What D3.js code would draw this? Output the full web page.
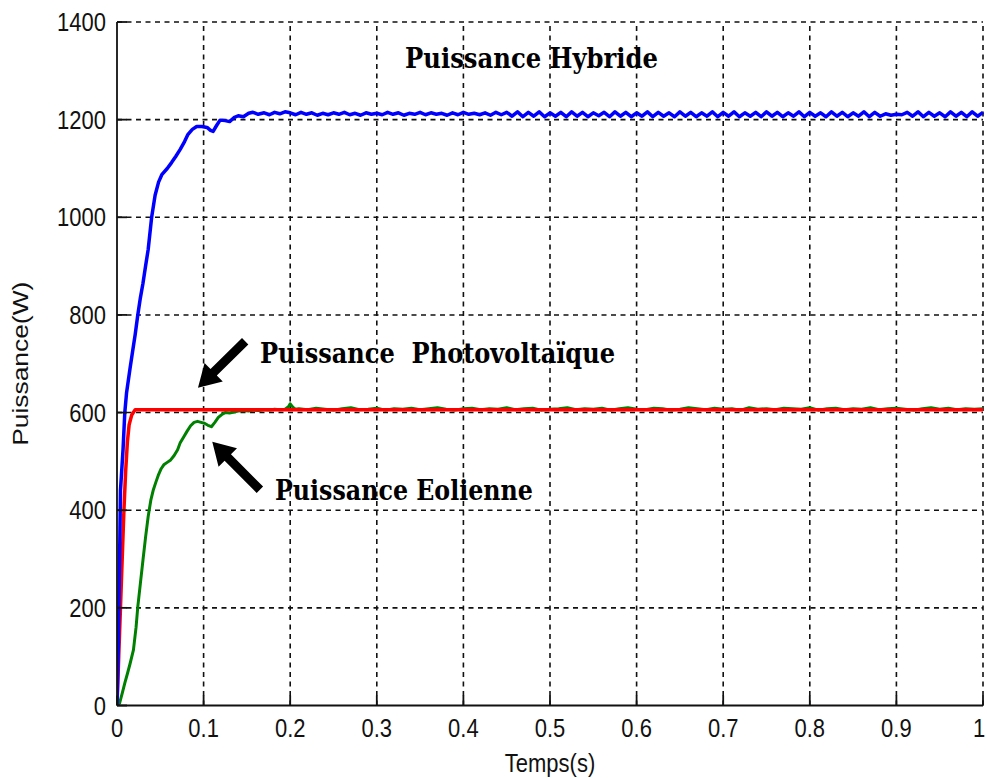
<!DOCTYPE html>
<html>
<head>
<meta charset="utf-8">
<script src="https://cdn.jsdelivr.net/npm/d3@7"></script>
<style>
  body { margin: 0; background: #fff; }
  svg { display: block; }
  .tick-label { font-family: "Liberation Sans", Arial, sans-serif; font-size: 22px; fill: #111; }
  .note { font-family: "DejaVu Serif", serif; font-weight: bold; font-size: 24px; fill: #000; white-space: pre; }
</style>
</head>
<body>
<div id="chart"></div>
<script>
// ---- data ----
const xTicks = [0, 0.1, 0.2, 0.3, 0.4, 0.5, 0.6, 0.7, 0.8, 0.9, 1];
const yTicks = [0, 200, 400, 600, 800, 1000, 1200, 1400];

// hybrid power (blue): transient
const hybridT = [0, 0.0015, 0.003, 0.004, 0.007, 0.009, 0.011, 0.015, 0.018, 0.021, 0.024, 0.027, 0.030, 0.033, 0.036,
  0.040, 0.044, 0.048, 0.052, 0.058, 0.063, 0.068, 0.073, 0.078, 0.082, 0.087, 0.092, 0.098, 0.104, 0.108, 0.111,
  0.115, 0.119, 0.125, 0.130, 0.135, 0.140, 0.146, 0.152, 0.157, 0.163, 0.170, 0.176, 0.182, 0.188, 0.194];
const hybridP = [0, 120, 300, 440, 525, 600, 640, 690, 725, 760, 800, 835, 865, 900, 934,
  1000, 1045, 1072, 1088, 1100, 1112, 1125, 1139, 1155, 1170, 1180, 1186, 1186, 1184, 1178, 1176,
  1188, 1199, 1198, 1196, 1204, 1208, 1206, 1213, 1215, 1211, 1214, 1210, 1215, 1212, 1216];
// hybrid power (blue): steady ripple from 0.2 s to 1 s, evenly sampled
const hybridRipple = [1214, 1210, 1215, 1211, 1214, 1209, 1213, 1210, 1214, 1211, 1215, 1210, 1213, 1209, 1214, 1211,
  1213, 1210, 1215, 1211, 1214, 1209, 1213, 1211, 1215, 1210, 1214, 1211, 1213, 1209, 1214, 1210, 1215, 1211, 1213,
  1210, 1214, 1209, 1215, 1210,
  1215, 1207, 1216, 1206, 1215, 1207, 1216, 1206, 1214, 1207, 1215, 1206, 1216, 1207, 1215, 1206, 1214, 1208, 1215,
  1206, 1216, 1207, 1215, 1206, 1214, 1207, 1216, 1206, 1215, 1207, 1214, 1206, 1216, 1207, 1215, 1206, 1214, 1207,
  1216, 1206, 1215, 1207, 1216, 1206, 1214, 1207, 1215, 1206, 1216, 1207, 1215, 1206, 1214, 1207, 1216, 1206, 1215,
  1207, 1214, 1206, 1216, 1207, 1215, 1206, 1214, 1207, 1216, 1206, 1215, 1207, 1212, 1209, 1211, 1210, 1215, 1207,
  1216, 1206, 1215, 1207, 1214, 1206, 1216, 1207, 1215, 1206, 1216, 1207, 1215];

// photovoltaic power (red)
const pvT = [0, 0.002, 0.005, 0.008, 0.010, 0.012, 0.014, 0.017, 0.021, 1];
const pvP = [0, 100, 250, 400, 480, 540, 575, 595, 606, 606];

// wind power (green): transient
const windT = [0, 0.003, 0.006, 0.009, 0.012, 0.015, 0.019, 0.022, 0.024, 0.027, 0.030, 0.033, 0.036, 0.039, 0.042,
  0.045, 0.048, 0.051, 0.054, 0.058, 0.062, 0.066, 0.070, 0.073, 0.077, 0.081, 0.085, 0.089, 0.093, 0.097, 0.101,
  0.105, 0.109, 0.113, 0.117, 0.121, 0.125, 0.130, 0.135, 0.140, 0.146, 0.152, 0.158, 0.164, 0.170, 0.176, 0.182,
  0.188, 0.194, 0.198, 0.200, 0.203, 0.206];
const windP = [0, 5, 25, 46, 65, 85, 114, 160, 202, 250, 298, 345, 387, 420, 442,
  458, 473, 485, 493, 498, 503, 512, 524, 538, 550, 562, 573, 580, 582, 580, 578,
  574, 571, 580, 590, 596, 600, 599, 601, 603, 604, 603, 605, 604, 606, 605, 607,
  606, 607, 612, 618, 611, 607];
// wind power (green): steady part from 0.21 s to 1 s, evenly sampled
const windSteady = [608, 606, 609, 607, 605, 608, 610, 606, 607, 609, 605, 608, 607, 609, 606, 608, 610, 607, 605, 608,
  609, 606, 608, 607, 610, 606, 608, 609, 605, 607, 608, 610, 606, 608, 607, 609, 605, 608, 610, 607,
  606, 609, 608, 605, 607, 610, 608, 606, 609, 607, 608, 605, 610, 607, 608, 606, 609, 608, 607, 610,
  605, 608, 609, 606, 608, 607, 610, 606, 608, 609, 607, 605, 608, 610, 607, 609, 606, 608, 607, 608];

const notes = ['Puissance Hybride', 'Puissance  Photovoltaïque', 'Puissance Eolienne'];

// ---- layout ----
const width = 987, height = 778;
const plotLeft = 117, plotRight = 983, plotTop = 22, plotBottom = 705.5;
const stretch = 1.2; // the picture is taller than the fonts

function evenly(t0, t1, values) {
  const step = (t1 - t0) / (values.length - 1);
  return values.map(function (v, i) { return [t0 + i * step, v]; });
}
function zip(ts, ps) {
  return ts.map(function (t, i) { return [t, ps[i]]; });
}

const hybrid = zip(hybridT, hybridP).concat(evenly(0.2, 1, hybridRipple));
const pv = zip(pvT, pvP);
const wind = zip(windT, windP).concat(evenly(0.21, 1, windSteady));

const x = d3.scaleLinear().domain([0, 1]).range([plotLeft, plotRight]);
const y = d3.scaleLinear().domain([0, 1400]).range([plotBottom, plotTop]);

const svg = d3.select('#chart')
  .append('svg')
  .attr('width', width)
  .attr('height', height);

svg.append('rect').attr('width', width).attr('height', height).attr('fill', '#fff');

svg.append('clipPath').attr('id', 'plot')
  .append('rect')
  .attr('x', plotLeft).attr('y', plotTop - 3)
  .attr('width', plotRight - plotLeft + 3).attr('height', plotBottom - plotTop + 3);

// grid
const grid = svg.append('g')
  .attr('stroke', '#111')
  .attr('stroke-width', 1.6)
  .attr('stroke-dasharray', '5,4.5');

grid.selectAll('line.v')
  .data(xTicks.slice(1))
  .enter()
  .append('line')
  .attr('class', 'v')
  .attr('x1', function (d) { return x(d); })
  .attr('x2', function (d) { return x(d); })
  .attr('y1', plotBottom)
  .attr('y2', plotTop);

grid.selectAll('line.h')
  .data(yTicks.slice(1))
  .enter()
  .append('line')
  .attr('class', 'h')
  .attr('y1', function (d) { return y(d); })
  .attr('y2', function (d) { return y(d); })
  .attr('x1', plotLeft)
  .attr('x2', plotRight);

// curves: green under red under blue
const line = d3.line()
  .x(function (d) { return x(d[0]); })
  .y(function (d) { return y(d[1]); });

const curves = svg.append('g').attr('clip-path', 'url(#plot)')
  .attr('fill', 'none')
  .attr('stroke-linejoin', 'round');

curves.append('path').datum(wind).attr('d', line).attr('stroke', '#008000').attr('stroke-width', 3);
curves.append('path').datum(pv).attr('d', line).attr('stroke', '#ff0000').attr('stroke-width', 3.5);
curves.append('path').datum(hybrid).attr('d', line).attr('stroke', '#0000ff').attr('stroke-width', 3.5);

// axes (left and bottom solid, inward ticks)
const axes = svg.append('g').attr('stroke', '#111').attr('stroke-width', 1.8);
axes.append('line').attr('x1', plotLeft).attr('x2', plotLeft).attr('y1', plotTop).attr('y2', plotBottom);
axes.append('line').attr('x1', plotLeft).attr('x2', plotRight).attr('y1', plotBottom).attr('y2', plotBottom);

axes.selectAll('line.xt')
  .data(xTicks)
  .enter()
  .append('line')
  .attr('class', 'xt')
  .attr('x1', function (d) { return x(d); })
  .attr('x2', function (d) { return x(d); })
  .attr('y1', plotBottom)
  .attr('y2', plotBottom - 10);

axes.selectAll('line.yt')
  .data(yTicks)
  .enter()
  .append('line')
  .attr('class', 'yt')
  .attr('y1', function (d) { return y(d); })
  .attr('y2', function (d) { return y(d); })
  .attr('x1', plotLeft)
  .attr('x2', plotLeft + 10);

// tick labels (the last one is nudged in so it is not cut by the page edge)
svg.selectAll('text.xl')
  .data(xTicks)
  .enter()
  .append('text')
  .attr('class', 'tick-label xl')
  .attr('text-anchor', 'middle')
  .attr('transform', function (d) {
    const px = d === 1 ? x(d) - 4 : x(d);
    return 'translate(' + px + ',737) scale(1,' + stretch + ')';
  })
  .text(function (d) { return d3.format('~g')(d); });

svg.selectAll('text.yl')
  .data(yTicks)
  .enter()
  .append('text')
  .attr('class', 'tick-label yl')
  .attr('text-anchor', 'end')
  .attr('transform', function (d) { return 'translate(106,' + (y(d) + 9) + ') scale(1,' + stretch + ')'; })
  .text(function (d) { return d; });

// axis titles
svg.append('text')
  .attr('class', 'tick-label')
  .attr('text-anchor', 'middle')
  .attr('transform', 'translate(' + (plotLeft + plotRight) / 2 + ',772) scale(1,' + stretch + ')')
  .text('Temps(s)');

svg.append('text')
  .attr('class', 'tick-label')
  .attr('text-anchor', 'middle')
  .attr('transform', 'translate(28,' + (plotTop + plotBottom) / 2 + ') scale(1,' + stretch + ') rotate(-90)')
  .text('Puissance(W)');

// annotations (anchored in data units)
const notePos = [
  { t: 0.3326, p: 1306, w: 253 },
  { t: 0.1651, p: 702, w: 355 },
  { t: 0.1824, p: 421, w: 258 }
];
svg.selectAll('text.note')
  .data(notes)
  .enter()
  .append('text')
  .attr('class', 'note')
  .attr('transform', function (d, i) {
    return 'translate(' + x(notePos[i].t) + ',' + y(notePos[i].p) + ') scale(1,' + stretch + ')';
  })
  .attr('textLength', function (d, i) { return notePos[i].w; })
  .attr('lengthAdjust', 'spacingAndGlyphs')
  .text(function (d) { return d; });

// arrows: tail -> tip, in data units
const arrows = [
  { from: [0.148, 746], to: [0.0935, 651] },
  { from: [0.165, 442], to: [0.110, 540] }
];
function arrowPath(a) {
  const x0 = x(a.from[0]), y0 = y(a.from[1]), x1 = x(a.to[0]), y1 = y(a.to[1]);
  const len = Math.hypot(x1 - x0, y1 - y0);
  const ux = (x1 - x0) / len, uy = (y1 - y0) / len, nx = -uy, ny = ux;
  const shaft = 4.5, head = 13, headLen = 22;
  const bx = x1 - ux * headLen, by = y1 - uy * headLen;
  const pts = [
    [x0 + nx * shaft, y0 + ny * shaft],
    [bx + nx * shaft, by + ny * shaft],
    [bx + nx * head, by + ny * head],
    [x1, y1],
    [bx - nx * head, by - ny * head],
    [bx - nx * shaft, by - ny * shaft],
    [x0 - nx * shaft, y0 - ny * shaft]
  ];
  return 'M' + pts.map(function (p) { return p.join(','); }).join('L') + 'Z';
}
svg.selectAll('path.arrow')
  .data(arrows)
  .enter()
  .append('path')
  .attr('class', 'arrow')
  .attr('d', arrowPath)
  .attr('fill', '#000');
</script>
</body>
</html>
